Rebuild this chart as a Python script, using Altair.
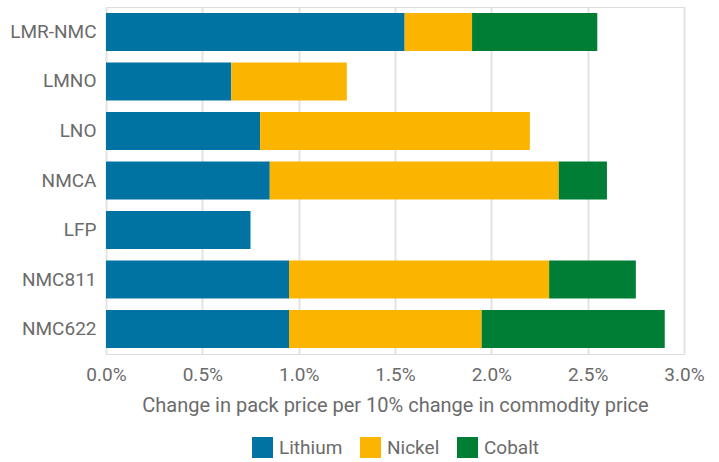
import altair as alt
import pandas as pd

chemistries = ["LMR-NMC", "LMNO", "LNO", "NMCA", "LFP", "NMC811", "NMC622"]
lithium = [1.55, 0.65, 0.80, 0.85, 0.75, 0.95, 0.95]
nickel = [0.35, 0.60, 1.40, 1.50, 0.00, 1.35, 1.00]
cobalt = [0.65, 0.00, 0.00, 0.25, 0.00, 0.45, 0.95]

metals = ["Lithium", "Nickel", "Cobalt"]
colors = ["#0073A2", "#FBB400", "#007E36"]

rows = []
for i, c in enumerate(chemistries):
    for j, (m, vals) in enumerate(zip(metals, [lithium, nickel, cobalt])):
        rows.append({"chem": c, "metal": m, "value": vals[i] / 100, "ord": j})
df = pd.DataFrame(rows)

FONT = "Roboto"
GRAY = "#6b6b6b"

chart = alt.Chart(df).mark_bar().encode(
    y=alt.Y("chem:N", sort=chemistries, title=None,
            scale=alt.Scale(paddingInner=0.23, paddingOuter=0.12),
            axis=alt.Axis(labelFont=FONT, labelFontSize=19, labelColor=GRAY,
                          ticks=False, domain=False, labelPadding=10, grid=False)),
    x=alt.X("value:Q", stack="zero",
            title="Change in pack price per 10% change in commodity price",
            scale=alt.Scale(domain=[0, 0.03], nice=False),
            axis=alt.Axis(format=".1%", values=[0, 0.005, 0.01, 0.015, 0.02, 0.025, 0.03],
                          labelFont=FONT, labelFontSize=19, labelColor=GRAY,
                          titleFont=FONT, titleFontSize=20, titleColor=GRAY,
                          titleFontWeight="normal", titlePadding=11,
                          ticks=False, domain=False, labelPadding=11,
                          grid=True, gridColor="#e3e3e3", gridWidth=2,
                          labelFlush=False)),
    color=alt.Color("metal:N", sort=metals,
                    scale=alt.Scale(domain=metals, range=colors),
                    legend=alt.Legend(title=None, orient="none", direction="horizontal",
                                      legendX=146, legendY=430,
                                      symbolType="square", symbolSize=441,
                                      symbolStrokeWidth=0, symbolOpacity=1,
                                      labelFont=FONT, labelFontSize=19, labelColor=GRAY,
                                      columnPadding=17, labelOffset=6)),
    order=alt.Order("ord:Q"),
).properties(
    width=578, height=347,
    padding={"left": 106, "top": 7, "right": 35, "bottom": 108},
    autosize=alt.AutoSizeParams(type="none"),
).configure_view(stroke=None).configure(background="white")

chart.save("out.html", embed_options={"renderer": "svg", "actions": False})
